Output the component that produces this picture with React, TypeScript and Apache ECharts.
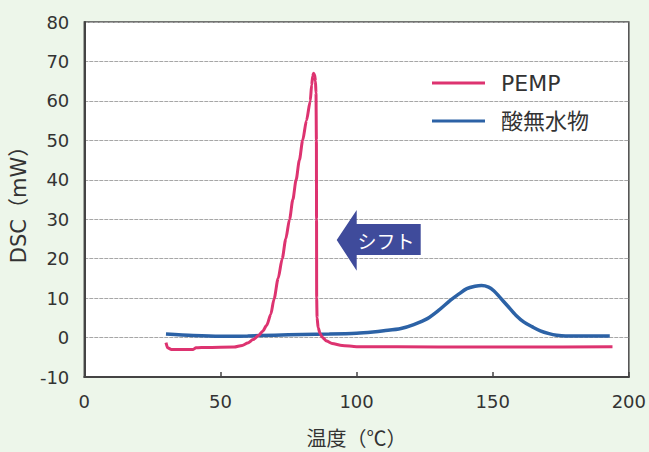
import React, { useEffect, useRef } from "react";
import * as echarts from "echarts";

const xTicks = [0, 50, 100, 150, 200];
const yTicks = [-10, 0, 10, 20, 30, 40, 50, 60, 70, 80];

const seriesNames = ["PEMP", "酸無水物"];

const pempX = [30, 30.6, 32, 40, 41, 45, 55, 58, 60, 62, 64, 65.5, 67, 68.5, 69.7, 71.2, 72.7, 74, 75.4, 76.6, 77.8, 79, 80.2, 81.6, 83, 83.5, 83.9, 84.2, 84.6, 84.9, 85.1, 85.25, 85.3, 85.35, 85.5, 85.9, 86.6, 87.5, 89, 91, 94.7, 100, 130, 160, 194];
const pempY = [-1.3, -2.6, -3.0, -3.0, -2.6, -2.5, -2.4, -2.0, -1.4, -0.5, 0.5, 1.6, 3.1, 5.9, 9.8, 15, 20, 25, 30, 35, 40, 45, 50, 55, 60, 64, 66.3, 67.0, 66.6, 65, 62, 50, 30, 10, 5, 2.5, 1, 0, -0.9, -1.5, -2.0, -2.3, -2.4, -2.4, -2.3];

const acidX = [30, 40, 50, 60, 70, 80, 90, 100, 106, 110, 116.3, 121, 126, 130, 134.4, 137.5, 140.5, 143.5, 145.9, 148.5, 150.5, 152.5, 155.5, 158.6, 161.5, 164.6, 167.5, 170.7, 173.5, 176.7, 185, 193];
const acidY = [0.9, 0.5, 0.3, 0.4, 0.6, 0.8, 0.9, 1.1, 1.4, 1.7, 2.3, 3.3, 4.8, 6.8, 9.4, 11.0, 12.4, 13.0, 13.2, 12.8, 11.8, 10.3, 8.0, 5.6, 3.9, 2.7, 1.7, 1.0, 0.6, 0.4, 0.4, 0.4];

const xName = "温度（℃）";
const yName = "DSC（mW）";
const shiftLabel = "シフト";

const pairs = (xs: number[], ys: number[]) => xs.map((x, i) => [x, ys[i]]);

export default function App() {
  const ref = useRef<HTMLDivElement>(null);
  useEffect(() => {
    if (!ref.current) return;
    const chart = echarts.init(ref.current, undefined, { renderer: "svg" });
    const tickFont = "'DejaVu Sans', 'Noto Sans CJK JP', sans-serif";
    const cjkFont = "'Noto Sans CJK JP', 'DejaVu Sans', sans-serif";
    chart.setOption({
      animation: false,
      backgroundColor: "#edf6ea",
      grid: {
        left: 79,
        right: 18,
        top: 22,
        bottom: 74,
        show: true,
        backgroundColor: "#ffffff",
        borderColor: "#4a4a4a",
        borderWidth: 1.5,
      },
      legend: {
        orient: "vertical",
        left: 432,
        top: 71,
        padding: 0,
        data: seriesNames.map((n) => ({ name: n, icon: "rect" })),
        itemWidth: 53,
        itemHeight: 3,
        itemGap: 14,
        textStyle: {
          fontSize: 22,
          lineHeight: 24,
          color: "#333",
          fontFamily: tickFont,
          padding: [0, 0, 0, 11],
        },
      },
      xAxis: {
        type: "value",
        min: xTicks[0],
        max: xTicks[xTicks.length - 1],
        interval: 50,
        name: xName,
        nameLocation: "middle",
        nameGap: 50,
        nameTextStyle: { fontSize: 20, color: "#333", fontFamily: cjkFont },
        axisLine: { show: true, onZero: false, lineStyle: { color: "#444", width: 2 } },
        axisTick: { show: true, inside: true, length: 5, lineStyle: { color: "#444", width: 1.5 } },
        axisLabel: { fontSize: 18, color: "#333", margin: 15, fontFamily: tickFont },
        splitLine: { show: false },
      },
      yAxis: {
        type: "value",
        min: yTicks[0],
        max: yTicks[yTicks.length - 1],
        interval: 10,
        name: yName,
        nameLocation: "middle",
        nameGap: 50,
        nameTextStyle: { fontSize: 21, color: "#333", fontFamily: tickFont },
        axisLine: { show: true, onZero: false, lineStyle: { color: "#444", width: 2 } },
        axisTick: { show: false },
        axisLabel: { fontSize: 18, color: "#333", margin: 15, fontFamily: tickFont },
        splitLine: { show: true, lineStyle: { color: "#a6a6a6", width: 1, type: [4, 1] } },
      },
      series: [
        {
          name: seriesNames[0],
          type: "line",
          data: pairs(pempX, pempY),
          showSymbol: false,
          symbol: "none",
          smooth: 0.25,
          smoothMonotone: "x",
          lineStyle: { color: "#dd3370", width: 3 },
          itemStyle: { color: "#dd3370" },
          z: 3,
        },
        {
          name: seriesNames[1],
          type: "line",
          data: pairs(acidX, acidY),
          showSymbol: false,
          symbol: "none",
          smooth: 0.3,
          lineStyle: { color: "#2c62a6", width: 3.5 },
          itemStyle: { color: "#2c62a6" },
          z: 2,
        },
      ],
      graphic: [
        {
          type: "polygon",
          shape: {
            points: [
              [336.7, 240],
              [356.7, 210],
              [356.7, 224],
              [420.7, 224],
              [420.7, 255],
              [356.7, 255],
              [356.7, 270.7],
            ],
          },
          style: { fill: "#3f4b9b" },
          z: 10,
        },
        {
          type: "text",
          x: 386,
          y: 240,
          style: {
            text: shiftLabel,
            fill: "#ffffff",
            fontSize: 19,
            fontFamily: cjkFont,
            align: "center",
            verticalAlign: "middle",
          },
          z: 11,
        },
      ],
    });
    return () => chart.dispose();
  }, []);
  return (
    <div
      ref={ref}
      style={{ position: "absolute", left: 0, top: 0, width: 649, height: 452 }}
    />
  );
}
